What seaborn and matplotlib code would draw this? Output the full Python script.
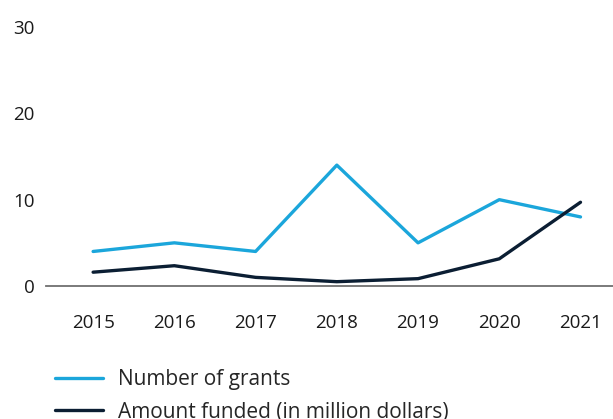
import matplotlib
matplotlib.use("Agg")
import matplotlib.pyplot as plt
import pandas as pd
import seaborn as sns

years = [2015, 2016, 2017, 2018, 2019, 2020, 2021]
grants = [4, 5, 4, 14, 5, 10, 8]
funded = [1.6, 2.35, 1.0, 0.5, 0.85, 3.15, 9.7]
series_names = ["Number of grants", "Amount funded (in million dollars)"]
colors = ["#1ba6db", "#0b1e33"]

sns.set_theme(style="white")
plt.rcParams["font.family"] = ["Open Sans", "DejaVu Sans"]

df = pd.DataFrame({"year": years * 2,
                   "value": grants + funded,
                   "series": [series_names[0]] * len(years) + [series_names[1]] * len(years)})

fig = plt.figure(figsize=(6.13, 4.19), dpi=100)
ax = fig.add_axes([46 / 613, 133 / 419, 1 - 46 / 613, 259 / 419])

sns.lineplot(data=df, x="year", y="value", hue="series", palette=colors,
             linewidth=2.4, ax=ax, legend=True)

ax.set_xlim(2014.42, 2021.4)
ax.set_ylim(0, 30)
ax.set_yticks([0, 10, 20, 30])
ax.set_xticks(years)
ax.set_xlabel("")
ax.set_ylabel("")
for s in ["top", "right", "left"]:
    ax.spines[s].set_visible(False)
ax.spines["bottom"].set_color("#707070")
ax.spines["bottom"].set_linewidth(1.3)
ax.tick_params(axis="both", length=0, labelsize=13.5, colors="#1a1a1a")
ax.tick_params(axis="y", pad=8)
ax.tick_params(axis="x", pad=20)

handles, labels = ax.get_legend_handles_labels()
ax.legend(handles, labels, loc="upper left", bbox_to_anchor=(47 / 613, 1 - 361 / 419),
          bbox_transform=fig.transFigure, frameon=False, fontsize=15,
          handlelength=2.3, handletextpad=0.7, labelspacing=0.55, borderaxespad=0)

fig.savefig("out.png", dpi=100)
